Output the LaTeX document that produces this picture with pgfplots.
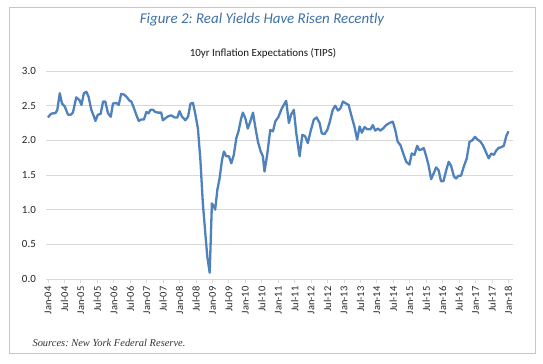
\documentclass[border=0pt]{standalone}
\usepackage{pgfplots}
\pgfplotsset{compat=1.18}
\usepackage{fontspec}
\setmainfont{Carlito}
\newfontfamily\serifit{Liberation Serif}
\definecolor{linec}{RGB}{79,129,189}
\definecolor{titlec}{RGB}{62,112,165}
\definecolor{gridc}{RGB}{217,217,217}
\frenchspacing
\begin{document}
\begin{tikzpicture}[x=1bp,y=1bp]
\useasboundingbox (0,0) rectangle (543,363);
\fill[white] (0,0) rectangle (543,363);
\draw[black!22, line width=0.8bp] (9,10) rectangle (535,356);
\node[font=\fontsize{15}{17}\selectfont\itshape, text=titlec] at (262,343) {Figure 2: Real Yields Have Risen Recently};
\node[font=\fontsize{11}{13}\selectfont, text=black!90] at (263,310) {10yr Inflation Expectations (TIPS)};
\node[anchor=west, font=\fontsize{10.5}{12}\serifit\itshape, text=black!80] at (29,20) {Sources: New York Federal Reserve.};
\begin{axis}[
  at={(48bp,84bp)}, anchor=origin,
  scale only axis, width=467bp, height=208bp,
  xmin=-0.6, xmax=169.8, ymin=0, ymax=3,
  axis x line*=bottom, axis y line*=left,
  x axis line style={gridc, line width=0.8bp, -},
  y axis line style={draw=none},
  ytick={0,0.5,...,3}, ymajorgrids,
  ytick style={draw=none},
  grid style={gridc, line width=0.8bp},
  xtick={0,6,...,168},
  xticklabels={Jan-04,Jul-04,Jan-05,Jul-05,Jan-06,Jul-06,Jan-07,Jul-07,Jan-08,Jul-08,Jan-09,Jul-09,Jan-10,Jul-10,Jan-11,Jul-11,Jan-12,Jul-12,Jan-13,Jul-13,Jan-14,Jul-14,Jan-15,Jul-15,Jan-16,Jul-16,Jan-17,Jul-17,Jan-18},
  xtick style={gridc, line width=0.8bp},
  tick align=outside, major tick length=4bp,
  xticklabel style={rotate=90, anchor=east, font=\fontsize{10.5}{12}\selectfont, text=black!85},
  yticklabel style={font=\fontsize{11}{13}\selectfont, text=black!85, xshift=-3bp},
  yticklabel={\pgfmathprintnumber[fixed,fixed zerofill,precision=1]{\tick}},
  /pgf/number format/assume math mode=true,
  clip=false,
]
\addplot[linec, line width=2.3bp, line join=round, no markers] coordinates {
(0,2.33) (1.0,2.38) (1.8,2.39) (2.7,2.39) (3.4,2.44) (4.3,2.68) (5.1,2.53) (6.1,2.49) (7.3,2.37) (8.3,2.37)
(9.1,2.40) (10.3,2.62) (11.5,2.58) (12.2,2.51) (13.1,2.68) (14.0,2.70) (14.8,2.63) (15.8,2.44) (16.8,2.34) (17.3,2.28)
(18.2,2.37) (19.2,2.38) (20.1,2.56) (20.9,2.56) (21.9,2.39) (22.9,2.34) (23.7,2.53) (24.9,2.54) (25.8,2.51) (26.7,2.67)
(27.7,2.66) (28.6,2.63) (29.8,2.57) (30.4,2.56) (31.4,2.46) (32.2,2.37) (33.1,2.28) (34.0,2.30) (35.0,2.30) (35.9,2.41)
(36.7,2.39) (37.4,2.44) (38.3,2.44) (39.1,2.41) (40.1,2.40) (41.3,2.40) (41.9,2.29) (43.2,2.33) (44.0,2.35) (45.0,2.36)
(46.2,2.33) (47.2,2.33) (48.0,2.42) (48.9,2.34) (50.1,2.29) (51.1,2.34) (52.0,2.53) (52.9,2.54) (53.7,2.39) (54.7,2.17)
(55.6,1.72) (56.5,1.09) (57.4,0.66) (58.1,0.33) (59.0,0.09) (59.8,1.09) (60.5,1.05) (61.0,1.00) (61.8,1.29) (62.6,1.45)
(63.5,1.72) (64.2,1.84) (65.0,1.77) (66.0,1.77) (66.9,1.67) (67.8,1.79) (68.7,2.03) (69.5,2.13) (70.5,2.32) (71.1,2.40)
(72.0,2.32) (72.9,2.17) (73.8,2.27) (74.8,2.40) (75.6,2.20) (76.6,1.98) (77.6,1.84) (78.4,1.77) (79.0,1.55) (80.0,1.80)
(81.1,2.15) (82.1,2.13) (82.9,2.27) (84.1,2.34) (85.3,2.46) (86.9,2.57) (87.9,2.25) (88.7,2.37) (89.7,2.44) (90.6,2.10)
(91.8,1.77) (92.8,2.08) (93.8,2.06) (94.8,1.96) (95.8,2.13) (97.0,2.30) (98.0,2.33) (99.1,2.25) (99.9,2.10) (100.9,2.09)
(101.9,2.15) (102.7,2.25) (103.9,2.44) (104.8,2.50) (105.8,2.43) (106.7,2.46) (107.6,2.56) (108.4,2.54) (109.7,2.51) (110.6,2.37)
(111.8,2.20) (112.8,2.01) (113.7,2.20) (114.5,2.11) (115.5,2.19) (116.5,2.16) (117.7,2.16) (118.5,2.22) (119.4,2.14) (120.4,2.17)
(121.3,2.14) (122.2,2.17) (123.4,2.22) (124.6,2.25) (125.8,2.27) (126.7,2.15) (127.6,1.98) (128.6,1.93) (129.8,1.79) (130.7,1.69)
(131.9,1.65) (132.7,1.81) (133.7,1.79) (134.7,1.92) (135.5,1.86) (136.4,1.87) (137.1,1.89) (138.0,1.77) (138.8,1.65) (139.8,1.44)
(140.8,1.53) (141.6,1.61) (142.5,1.57) (143.4,1.41) (144.3,1.41) (145.3,1.57) (146.2,1.69) (147.1,1.63) (148.1,1.48) (148.9,1.45)
(149.8,1.49) (150.7,1.49) (151.7,1.62) (152.8,1.74) (153.8,1.98) (154.8,2.00) (155.8,2.05) (156.8,2.01) (157.8,1.98) (158.8,1.92)
(159.9,1.82) (160.8,1.74) (161.7,1.81) (162.7,1.79) (163.5,1.85) (164.4,1.89) (165.3,1.90) (166.3,1.92) (167.2,2.06) (168.0,2.13)
};
\end{axis}
\end{tikzpicture}
\end{document}
